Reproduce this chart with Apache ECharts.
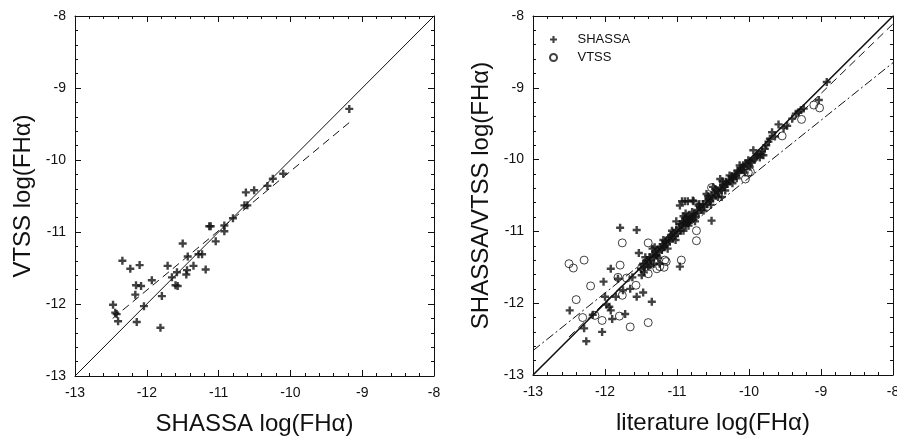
<!DOCTYPE html>
<html>
<head>
<meta charset="utf-8">
<script src="https://cdn.jsdelivr.net/npm/echarts@6/dist/echarts.min.js"></script>
<style>
html,body{margin:0;padding:0;background:#fff;}
#chart{width:897px;height:438px;}
</style>
</head>
<body>
<div id="chart"></div>
<script>
// ---------- DATA ----------
// Left panel: SHASSA log(FHα) vs VTSS log(FHα)
const leftPoints = [
  [-9.18,-9.29],[-10.10,-10.19],[-10.245,-10.26],[-10.32,-10.36],[-10.505,-10.42],
  [-10.62,-10.45],[-10.64,-10.63],[-10.60,-10.63],[-10.80,-10.81],[-10.92,-10.91],
  [-10.92,-10.99],[-11.13,-10.92],[-11.11,-10.92],[-11.04,-11.13],[-11.50,-11.16],
  [-11.43,-11.34],[-11.28,-11.31],[-11.23,-11.31],[-11.35,-11.47],[-11.18,-11.52],
  [-11.44,-11.53],[-11.45,-11.59],[-11.58,-11.56],[-11.65,-11.63],[-11.71,-11.47],
  [-11.60,-11.74],[-11.57,-11.75],[-11.93,-11.67],[-11.79,-11.89],[-11.81,-12.33],
  [-12.04,-12.03],[-12.10,-11.46],[-12.23,-11.51],[-12.34,-11.40],[-12.15,-11.74],
  [-12.08,-11.75],[-12.16,-11.87],[-12.14,-12.25],[-12.47,-12.01],[-12.44,-12.12],
  [-12.42,-12.14],[-12.40,-12.24]
];
// Left panel lines
const leftOneToOne = [[-13,-13],[-8,-8]];
const leftFit = [[-12.475,-12.20],[-9.18,-9.48]];

// Right panel: literature log(FHα) vs SHASSA
const rightShassa = [
  [-12.49,-12.10],[-12.29,-12.35],[-12.26,-12.53],[-12.17,-12.16],[-12.04,-12.40],
  [-12.02,-11.70],[-12.00,-11.91],[-11.98,-12.02],[-11.94,-12.05],[-11.92,-12.10],
  [-11.90,-12.22],[-11.92,-11.52],[-11.85,-11.91],[-11.79,-10.95],[-11.82,-11.66],
  [-11.75,-11.82],[-11.72,-12.15],[-11.65,-11.80],[-11.62,-11.64],[-11.56,-10.98],
  [-11.56,-11.91],[-11.53,-11.30],[-11.49,-11.61],[-11.47,-11.85],[-11.46,-11.57],
  [-11.40,-11.49],[-11.35,-11.98],[-11.34,-11.24],[-11.32,-11.45],[-11.28,-11.34],
  [-11.24,-11.45],[-11.19,-11.22],[-11.16,-11.15],[-11.10,-11.08],[-11.01,-10.86],
  [-10.96,-10.64],[-10.89,-10.58],[-10.96,-11.49],[-10.91,-10.99],[-10.87,-10.89],
  [-10.77,-10.58],[-10.70,-10.64],[-10.59,-10.48],[-10.52,-10.85],[-10.50,-10.38],
  [-10.40,-10.27],[-10.38,-10.52],[-10.31,-10.34],[-10.22,-10.25],[-10.12,-10.15],
  [-10.08,-10.08],[-10.01,-10.01],[-9.96,-10.04],[-9.94,-9.87],[-9.89,-9.94],
  [-9.85,-9.97],[-9.80,-9.94],[-9.78,-9.85],[-9.71,-9.71],[-9.68,-9.62],
  [-9.59,-9.51],[-9.47,-9.53],[-9.31,-9.34],[-9.24,-9.29],[-9.03,-9.17],
  [-8.92,-8.92],
  [-11.50,-11.52],[-11.47,-11.45],[-11.45,-11.50],[-11.42,-11.40],[-11.40,-11.43],
  [-11.38,-11.36],[-11.36,-11.40],[-11.34,-11.32],[-11.32,-11.35],[-11.30,-11.28],
  [-11.29,-11.33],[-11.27,-11.25],[-11.25,-11.29],[-11.23,-11.22],[-11.21,-11.26],
  [-11.20,-11.18],[-11.18,-11.21],[-11.16,-11.13],[-11.14,-11.18],[-11.12,-11.10],
  [-11.10,-11.14],[-11.08,-11.05],[-11.06,-11.10],[-11.05,-11.02],[-11.03,-11.06],
  [-11.01,-10.98],[-10.99,-11.03],[-10.97,-10.95],[-10.95,-10.99],[-10.93,-10.90],
  [-10.92,-10.86],[-10.90,-10.88],[-10.89,-10.82],[-10.88,-10.92],[-10.87,-10.80],
  [-10.86,-10.85],[-10.85,-10.88],[-10.84,-10.78],[-10.83,-10.83],[-10.82,-10.86],
  [-10.81,-10.80],[-10.80,-10.84],[-10.78,-10.79],[-10.76,-10.76],[-10.74,-10.80],
  [-10.72,-10.70],[-10.70,-10.74],[-10.68,-10.66],[-10.66,-10.70],[-10.64,-10.62],
  [-10.62,-10.66],[-10.60,-10.58],[-10.58,-10.62],[-10.56,-10.55],[-10.54,-10.58],
  [-10.52,-10.50],[-10.50,-10.54],[-10.48,-10.46],[-10.46,-10.50],[-10.44,-10.43],
  [-10.42,-10.46],[-10.40,-10.39],[-10.38,-10.42],[-10.36,-10.35],[-10.34,-10.38],
  [-10.32,-10.31],[-10.30,-10.34],[-10.28,-10.28],[-10.26,-10.30],[-10.24,-10.23],
  [-10.22,-10.27],[-10.20,-10.20],[-10.18,-10.23],[-10.16,-10.15],[-10.14,-10.18],
  [-10.11,-10.12],[-10.08,-10.14],[-10.05,-10.06],[-10.02,-10.09],[-9.98,-10.02],
  [-9.93,-10.00],[-9.87,-9.92],[-9.83,-9.93],[-9.76,-9.80],[-9.73,-9.75],
  [-9.64,-9.68],[-9.52,-9.56],[-9.40,-9.43],[-9.35,-9.36],[-9.28,-9.31],
  [-10.93,-10.58],[-10.85,-10.58],[-10.78,-10.57],
  [-11.44,-11.36],[-11.37,-11.47],[-11.31,-11.22],[-11.26,-11.37],[-11.19,-11.12],
  [-11.13,-11.24],[-11.07,-10.99],[-11.02,-11.12],[-10.96,-10.90],[-10.91,-10.79],
  [-10.88,-10.75],[-10.84,-10.92],[-10.79,-10.73],[-10.75,-10.86],[-10.69,-10.62],
  [-10.63,-10.71],[-10.57,-10.51],[-10.53,-10.63],[-10.47,-10.41],[-10.43,-10.52],
  [-10.37,-10.30],[-10.33,-10.43],[-10.27,-10.22],[-10.23,-10.33],[-10.17,-10.26],
  [-10.13,-10.08],[-10.06,-10.18],[-9.99,-10.10],[-9.91,-9.98],[-9.82,-9.88]
];
// Right panel: literature log(FHα) vs VTSS
const rightVtss = [
  [-12.50,-11.45],[-12.44,-11.51],[-12.29,-11.40],[-12.40,-11.95],[-12.31,-12.20],
  [-12.20,-11.76],[-12.14,-12.17],[-12.04,-12.24],[-11.79,-11.47],[-11.76,-11.16],
  [-11.80,-12.18],[-11.76,-11.89],[-11.82,-11.64],[-11.70,-11.65],[-11.65,-12.33],
  [-11.57,-11.75],[-11.49,-11.50],[-11.40,-11.16],[-11.40,-12.27],[-11.38,-11.45],
  [-11.28,-11.52],[-11.18,-11.50],[-11.15,-11.42],[-11.40,-11.59],[-10.94,-11.40],
  [-10.73,-10.99],[-10.73,-11.13],[-10.52,-10.39],[-10.05,-10.27],[-10.01,-10.18],
  [-9.54,-9.67],[-9.27,-9.44],[-9.10,-9.24],[-9.02,-9.28],[-11.24,-11.49],
  [-11.17,-11.40],[-9.98,-10.17]
];
// Right panel lines
const rightOneToOne = [[-13,-13],[-8,-8]];
const rightShassaFit = [[-12.50,-12.47],[-8,-8.11]];
const rightVtssFit = [[-13,-12.66],[-8,-8.65]];

// Axis settings
const axisMin = -13, axisMax = -8, axisInterval = 1;

// ---------- CHART ----------
const FONT = "'Liberation Sans', Arial, sans-serif";
const INK = '#111';
const plusPath = 'path://M3.5,0H6.5V3.5H10V6.5H6.5V10H3.5V6.5H0V3.5H3.5Z';

function makeAxes(gridIndex, isX, name, nameGap) {
  const common = {
    type: 'value', min: axisMin, max: axisMax, interval: axisInterval,
    gridIndex: gridIndex,
    axisLine: { show: true, onZero: false, lineStyle: { color: INK, width: 1 } },
    axisTick: { show: true, inside: true, length: 6, lineStyle: { color: INK, width: 1 } },
    minorTick: { show: true, splitNumber: 5, length: 3, lineStyle: { color: INK, width: 1 } },
    splitLine: { show: false },
    minorSplitLine: { show: false }
  };
  const main = Object.assign({}, common, {
    position: isX ? 'bottom' : 'left',
    name: name, nameLocation: 'middle', nameGap: nameGap,
    nameTextStyle: { fontFamily: FONT, fontSize: 24, color: INK },
    axisLabel: { show: true, fontFamily: FONT, fontSize: 14, color: INK, margin: isX ? 10 : 9 }
  });
  const opp = Object.assign({}, common, {
    position: isX ? 'top' : 'right',
    axisLabel: { show: false }
  });
  return [main, opp];
}

const xAxes = [...makeAxes(0, true, 'SHASSA log(FHα)', 36), ...makeAxes(1, true, 'literature log(FHα)', 36)];
const yAxes = [...makeAxes(0, false, 'VTSS log(FHα)', 40), ...makeAxes(1, false, 'SHASSA/VTSS log(FHα)', 40)];

function lineSeries(data, xi, yi, type, width) {
  return {
    type: 'line', data: data, xAxisIndex: xi, yAxisIndex: yi,
    symbol: 'none', silent: true, z: 1,
    lineStyle: { color: INK, width: width || 1, type: type }
  };
}

const option = {
  backgroundColor: '#fff',
  animation: false,
  grid: [
    { left: 75, top: 16, width: 359, height: 360, containLabel: false, outerBoundsMode: 'none' },
    { left: 533, top: 16, width: 360, height: 359, containLabel: false, outerBoundsMode: 'none' }
  ],
  xAxis: xAxes,
  yAxis: yAxes,
  legend: {
    data: ['SHASSA', 'VTSS'],
    orient: 'vertical',
    left: 544, top: 28,
    itemWidth: 38, itemHeight: 7, itemGap: 5,
    textStyle: { fontFamily: FONT, fontSize: 13, color: INK },
    selectedMode: false
  },
  series: [
    lineSeries(leftOneToOne, 0, 0, 'solid', 1),
    lineSeries(leftFit, 0, 0, [8, 5], 1),
    {
      name: 'left', type: 'scatter', data: leftPoints, xAxisIndex: 0, yAxisIndex: 0,
      symbol: plusPath, symbolSize: 8, itemStyle: { color: INK }, z: 3
    },
    lineSeries(rightOneToOne, 2, 2, 'solid', 1.6),
    lineSeries(rightShassaFit, 2, 2, [8, 5], 1),
    lineSeries(rightVtssFit, 2, 2, [9, 3, 2, 3], 1),
    {
      name: 'SHASSA', type: 'scatter', data: rightShassa, xAxisIndex: 2, yAxisIndex: 2,
      symbol: plusPath, symbolSize: 8, itemStyle: { color: INK }, z: 3
    },
    {
      name: 'VTSS', type: 'scatter', data: rightVtss, xAxisIndex: 2, yAxisIndex: 2,
      symbol: 'circle', symbolSize: 8,
      itemStyle: { color: 'rgba(255,255,255,0)', borderColor: INK, borderWidth: 1 }, z: 3
    }
  ]
};

const chart = echarts.init(document.getElementById('chart'), null, { renderer: 'canvas' });
chart.setOption(option);
</script>
</body>
</html>
